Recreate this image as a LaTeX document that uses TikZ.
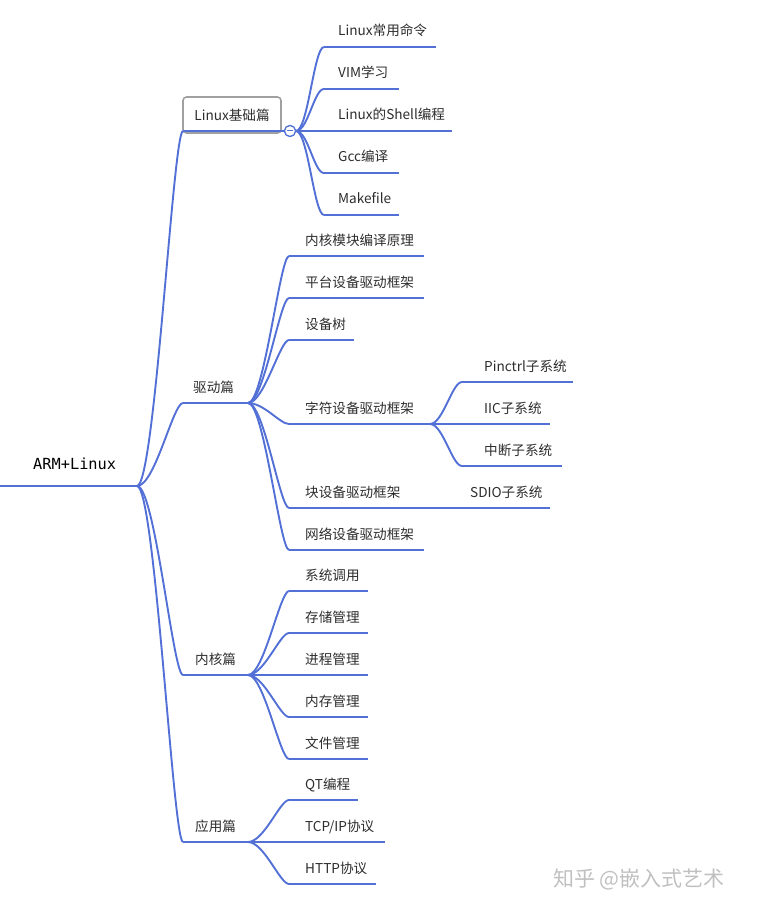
\documentclass[tikz,border=0pt]{standalone}
\usepackage{fontspec}
\newfontfamily\cjk{Noto Sans CJK SC}
\newfontfamily\monof{DejaVu Sans Mono}
\definecolor{mblue}{RGB}{82,112,214}
\definecolor{txt}{RGB}{45,45,45}
\definecolor{boxgray}{RGB}{160,160,160}
\definecolor{wm}{RGB}{192,192,192}
\begin{document}
\begin{tikzpicture}[x=1pt,y=-1pt,
  br/.style={draw=mblue,line width=1.9pt},
  ul/.style={draw=mblue,line width=1.9pt},
  rootline/.style={draw=mblue,line width=2.8pt},
  lbl/.style={anchor=base west,inner sep=0pt,text=txt,font=\cjk\fontsize{13.6}{15}\selectfont},
  rootlbl/.style={anchor=base west,inner sep=0pt,text=black,font=\monof\fontsize{15.3}{17}\selectfont},
  boxnode/.style={draw=boxgray,line width=1.6pt,rounded corners=3.5pt,minimum width=98pt,minimum height=36pt,inner sep=0pt,text=txt,font=\cjk\fontsize{13.6}{15}\selectfont},
  colcircle/.style={circle,draw=mblue,fill=white,line width=1.2pt,minimum size=11pt,inner sep=0pt},
  wmark/.style={anchor=base west,inner sep=0pt,text=wm,font=\cjk\fontsize{21}{23}\selectfont}
]
\useasboundingbox (0,0) rectangle (756,909);

% ---------- root ----------
\node[rootlbl] (root) at (33,469) {ARM+Linux};
\coordinate (r0) at (0,486);
\coordinate (r1) at (137,486);
\draw[rootline] (r0) -- (r1);

% ---------- level 1 ----------
\node[boxnode] (tA) at (232,115) {Linux基础篇};
\coordinate (sA) at (183,131); \coordinate (eA) at (284,131);
\node[colcircle] (cA) at (290,131) {};
\coordinate (oA) at (296,131);

\node[lbl] (tB) at (193,392) {驱动篇};
\coordinate (sB) at (183,403); \coordinate (eB) at (248,403);
\node[lbl] (tC) at (195,664) {内核篇};
\coordinate (sC) at (183,675); \coordinate (eC) at (248,675);
\node[lbl] (tD) at (195,831) {应用篇};
\coordinate (sD) at (183,842); \coordinate (eD) at (248,842);

\foreach \s in {sA,sB,sC,sD}
  \draw[br] (r1) .. controls +(18,0) and +(-10,0) .. (\s);
\draw[ul] (sA) -- (eA);
\draw[ul] (sB) -- (eB);
\draw[ul] (sC) -- (eC);
\draw[ul] (sD) -- (eD);

% ---------- Linux基础篇 children ----------
\node[lbl] (a1) at (338,36) {Linux常用命令};
\node[lbl] (a2) at (338,78) {VIM学习};
\node[lbl] (a3) at (338,120) {Linux的Shell编程};
\node[lbl] (a4) at (338,162) {Gcc编译};
\node[lbl] (a5) at (338,204) {Makefile};
\coordinate (sa1) at (324,47);  \coordinate (ea1) at (436,47);
\coordinate (sa2) at (324,89);  \coordinate (ea2) at (399,89);
\coordinate (sa3) at (324,131); \coordinate (ea3) at (452,131);
\coordinate (sa4) at (324,173); \coordinate (ea4) at (399,173);
\coordinate (sa5) at (324,215); \coordinate (ea5) at (399,215);
\foreach \i in {1,...,5}{
  \draw[br] (oA) .. controls +(12,0) and +(-10,0) .. (sa\i);
  \draw[ul] (sa\i) -- (ea\i);
}
\draw[ul] (eA) -- (cA.west);
\node[colcircle] (cA2) at (cA) {};
\draw[mblue,line width=1pt] ([xshift=-3pt]cA2.center) -- ([xshift=3pt]cA2.center);

% ---------- 驱动篇 children ----------
\node[lbl] (b1) at (305,245) {内核模块编译原理};
\node[lbl] (b2) at (305,287) {平台设备驱动框架};
\node[lbl] (b3) at (305,329) {设备树};
\node[lbl] (b4) at (305,413) {字符设备驱动框架};
\node[lbl] (b5) at (305,497) {块设备驱动框架};
\node[lbl] (b6) at (305,539) {网络设备驱动框架};
\coordinate (sb1) at (289,256); \coordinate (eb1) at (424,256);
\coordinate (sb2) at (289,298); \coordinate (eb2) at (424,298);
\coordinate (sb3) at (289,340); \coordinate (eb3) at (354,340);
\coordinate (sb4) at (289,424); \coordinate (eb4) at (430,424);
\coordinate (sb5) at (289,508); \coordinate (eb5) at (430,508);
\coordinate (sb6) at (289,550); \coordinate (eb6) at (424,550);
\foreach \i in {1,...,6}{
  \draw[br] (eB) .. controls +(16,0) and +(-9,0) .. (sb\i);
  \draw[ul] (sb\i) -- (eb\i);
}

% ---------- 字符设备驱动框架 children ----------
\node[lbl] (c1) at (484,371) {Pinctrl子系统};
\node[lbl] (c2) at (484,413) {IIC子系统};
\node[lbl] (c3) at (484,455) {中断子系统};
\coordinate (sc1) at (462,382); \coordinate (ec1) at (573,382);
\coordinate (sc2) at (462,424); \coordinate (ec2) at (550,424);
\coordinate (sc3) at (462,466); \coordinate (ec3) at (562,466);
\foreach \i in {1,2,3}{
  \draw[br] (eb4) .. controls +(13,0) and +(-10,0) .. (sc\i);
  \draw[ul] (sc\i) -- (ec\i);
}

% ---------- 块设备驱动框架 child ----------
\node[lbl] (d1) at (470,497) {SDIO子系统};
\coordinate (sd1) at (462,508); \coordinate (ed1) at (550,508);
\draw[br] (eb5) -- (sd1);
\draw[ul] (sd1) -- (ed1);

% ---------- 内核篇 children ----------
\node[lbl] (k1) at (305,580) {系统调用};
\node[lbl] (k2) at (305,622) {存储管理};
\node[lbl] (k3) at (305,664) {进程管理};
\node[lbl] (k4) at (305,706) {内存管理};
\node[lbl] (k5) at (305,748) {文件管理};
\coordinate (sk1) at (289,591); \coordinate (ek1) at (368,591);
\coordinate (sk2) at (289,633); \coordinate (ek2) at (368,633);
\coordinate (sk3) at (289,675); \coordinate (ek3) at (368,675);
\coordinate (sk4) at (289,717); \coordinate (ek4) at (368,717);
\coordinate (sk5) at (289,759); \coordinate (ek5) at (368,759);
\foreach \i in {1,...,5}{
  \draw[br] (eC) .. controls +(16,0) and +(-9,0) .. (sk\i);
  \draw[ul] (sk\i) -- (ek\i);
}

% ---------- 应用篇 children ----------
\node[lbl] (p1) at (305,789) {QT编程};
\node[lbl] (p2) at (305,831) {TCP/IP协议};
\node[lbl] (p3) at (305,873) {HTTP协议};
\coordinate (sp1) at (289,800); \coordinate (ep1) at (358,800);
\coordinate (sp2) at (289,842); \coordinate (ep2) at (385,842);
\coordinate (sp3) at (289,884); \coordinate (ep3) at (376,884);
\foreach \i in {1,2,3}{
  \draw[br] (eD) .. controls +(16,0) and +(-9,0) .. (sp\i);
  \draw[ul] (sp\i) -- (ep\i);
}

% ---------- watermark ----------
\node[wmark] (wmk) at (553,886) {知乎 @嵌入式艺术};
\end{tikzpicture}
\end{document}
